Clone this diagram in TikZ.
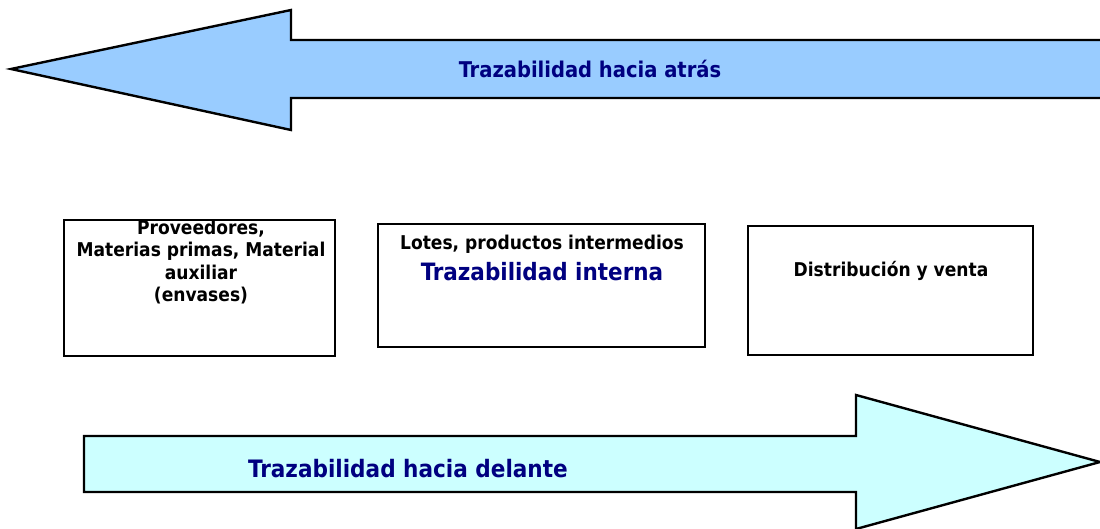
\documentclass[tikz,border=0pt]{standalone}
\usepackage{fontspec}
\setmainfont{DejaVu Sans Condensed}
\definecolor{azulclaro}{HTML}{99CCFF}
\definecolor{celeste}{HTML}{CCFFFF}
\definecolor{marino}{HTML}{000080}
\begin{document}
\begin{tikzpicture}[x=1pt,y=-1pt,
  caja/.style={draw, line width=2pt, inner sep=0pt},
  etiqueta/.style={font=\bfseries\fontsize{19}{22.5}\selectfont, align=center, inner sep=0pt},
  titulo/.style={etiqueta, text=marino},
  flecha/.style={draw, line width=2.4pt, line join=miter}]

  \useasboundingbox (0,0) rectangle (1100,529);
  \clip (0,0) rectangle (1100,529);

  % Flecha superior
  \filldraw[flecha, fill=azulclaro]
    (1110,40) -- (291,40) -- (291,10) -- (11,69)
    -- (291,130) -- (291,98) -- (1110,98);

  \node[titulo, font=\bfseries\fontsize{21.7}{25}\selectfont] (atras) at (590,69)
    {Trazabilidad hacia atrás};

  % Flecha inferior
  \filldraw[flecha, fill=celeste]
    (84,436) -- (856,436) -- (856,395) -- (1100,462)
    -- (856,529) -- (856,492) -- (84,492) -- cycle;

  \node[titulo, font=\bfseries\fontsize{24}{28}\selectfont] (delante) at (408,469)
    {Trazabilidad hacia delante};

  % Cajas
  \node[caja, minimum width=271pt, minimum height=136pt] (prov) at (199.5,288) {};
  \node[caja, minimum width=327pt, minimum height=123pt] (lotescaja) at (541.5,285.5) {};
  \node[caja, minimum width=285pt, minimum height=129pt] (ventacaja) at (890.5,290.5) {};

  % Textos de las cajas
  \node[etiqueta] (provtxt) at (201,262)
    {Proveedores,\\Materias primas, Material\\auxiliar\\(envases)};

  \node[etiqueta] (lotes) at (542,244)
    {Lotes, productos intermedios};

  \node[titulo, font=\bfseries\fontsize{23.9}{28}\selectfont] (interna) at (542,272)
    {Trazabilidad interna};

  \node[etiqueta] (venta) at (891,271)
    {Distribución y venta};

\end{tikzpicture}
\end{document}
